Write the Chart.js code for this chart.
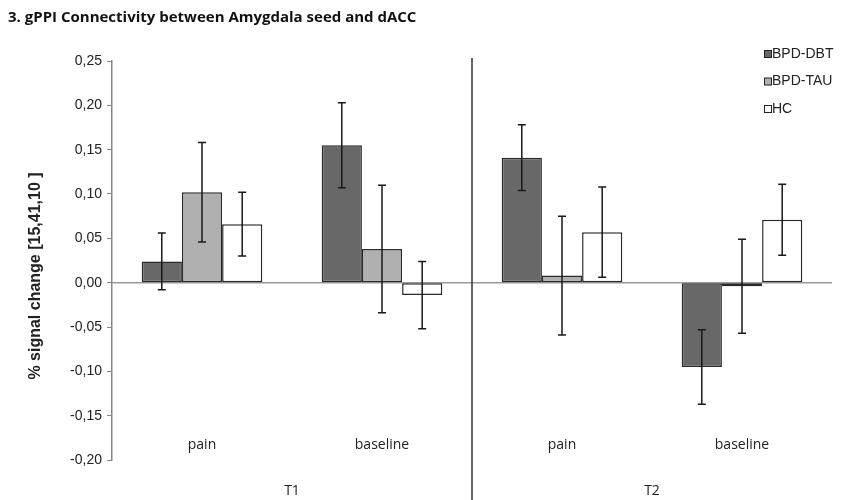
<!DOCTYPE html>
<html>
<head>
<meta charset="utf-8">
<script src="https://cdn.jsdelivr.net/npm/chart.js@4.4.1/dist/chart.umd.min.js"></script>
<style>
  html, body { margin: 0; padding: 0; background: #fff; }
  #title { position: absolute; left: 8px; top: 6px; font: bold 15px "Open Sans", sans-serif; color: #111; }
</style>
</head>
<body>
<div id="title">3. gPPI Connectivity between Amygdala seed and dACC</div>
<canvas id="chart" width="846" height="500"></canvas>
<script>
// categories (conditions) and their time-point groups
const categories = ['pain', 'baseline', 'pain', 'baseline'];
const groups = ['T1', 'T2'];

// mean % signal change per condition
const bpdDbt = [0.024, 0.155, 0.141, -0.095];
const bpdTau = [0.102, 0.038, 0.008, -0.004];
const hc = [0.066, -0.014, 0.057, 0.071];

// error bar half-lengths
const bpdDbtErr = [0.032, 0.048, 0.037, 0.042];
const bpdTauErr = [0.056, 0.072, 0.067, 0.053];
const hcErr = [0.036, 0.038, 0.051, 0.040];

const seriesNames = ['BPD-DBT', 'BPD-TAU', 'HC'];
const seriesColors = ['#686868', '#b0b0b0', '#ffffff'];
const errors = [bpdDbtErr, bpdTauErr, hcErr];

// zero line, divider, category labels, error bars, legend, axis title
const extras = {
    id: 'extras',
    beforeDatasetsDraw(chart) {
        const ctx = chart.ctx, area = chart.chartArea, y = chart.scales.y;
        ctx.save();
        ctx.strokeStyle = '#9a9a9a';
        ctx.lineWidth = 1.5;
        ctx.beginPath();
        ctx.moveTo(area.left, y.getPixelForValue(0));
        ctx.lineTo(area.right, y.getPixelForValue(0));
        ctx.stroke();
        ctx.restore();
    },
    afterDatasetsDraw(chart) {
        const ctx = chart.ctx;
        const x = chart.scales.x, y = chart.scales.y;
        ctx.save();

        // error bars
        ctx.strokeStyle = '#1a1a1a';
        ctx.lineWidth = 1.5;
        chart.data.datasets.forEach((ds, i) => {
            const meta = chart.getDatasetMeta(i);
            meta.data.forEach((bar, j) => {
                const v = ds.data[j], e = errors[i][j];
                const top = y.getPixelForValue(v + e), bot = y.getPixelForValue(v - e);
                ctx.beginPath();
                ctx.moveTo(bar.x, top); ctx.lineTo(bar.x, bot);
                ctx.moveTo(bar.x - 4, top); ctx.lineTo(bar.x + 4, top);
                ctx.moveTo(bar.x - 4, bot); ctx.lineTo(bar.x + 4, bot);
                ctx.stroke();
            });
        });

        // divider between T1 and T2
        const mid = (x.getPixelForValue(1) + x.getPixelForValue(2)) / 2;
        ctx.strokeStyle = '#333';
        ctx.lineWidth = 1.5;
        ctx.beginPath();
        ctx.moveTo(mid, 58);
        ctx.lineTo(mid, 500);
        ctx.stroke();

        // category and group labels
        ctx.fillStyle = '#222';
        ctx.font = '14px "Open Sans", sans-serif';
        ctx.textAlign = 'center';
        ctx.textBaseline = 'middle';
        categories.forEach((c, j) => ctx.fillText(c, x.getPixelForValue(j), 445));
        groups.forEach((g, k) => {
            const gx = (x.getPixelForValue(2 * k) + x.getPixelForValue(2 * k + 1)) / 2;
            ctx.fillText(g, gx, 491);
        });

        // legend
        ctx.font = '14px "Liberation Sans", Arial, sans-serif';
        ctx.textAlign = 'left';
        seriesNames.forEach((n, i) => {
            const ly = 54 + i * 27.5;
            ctx.fillStyle = seriesColors[i];
            ctx.fillRect(764, ly - 3.5, 7, 7);
            ctx.strokeStyle = '#222';
            ctx.lineWidth = 1;
            ctx.strokeRect(764.5, ly - 3.5, 7, 7);
            ctx.fillStyle = '#222';
            ctx.fillText(n, 772, ly);
        });

        // y axis title
        ctx.translate(36, 276);
        ctx.rotate(-Math.PI / 2);
        ctx.font = 'bold 16px "Liberation Sans", Arial, sans-serif';
        ctx.textAlign = 'center';
        ctx.fillText('% signal change [15,41,10 ]', 0, 0);
        ctx.restore();
    }
};

new Chart(document.getElementById('chart'), {
    type: 'bar',
    data: {
        labels: categories,
        datasets: seriesNames.map((n, i) => ({
            label: n,
            data: [bpdDbt, bpdTau, hc][i],
            backgroundColor: seriesColors[i],
            borderColor: '#2a2a2a',
            borderWidth: 1.5,
            borderSkipped: false,
            categoryPercentage: 0.67,
            barPercentage: 1.0
        }))
    },
    options: {
        responsive: false,
        animation: false,
        layout: { padding: { left: 0, top: 61, right: 14, bottom: 40 } },
        plugins: {
            legend: { display: false },
            tooltip: { enabled: false }
        },
        scales: {
            x: { display: false },
            y: {
                min: -0.2,
                max: 0.25,
                afterFit(scale) { scale.width = 112; },
                ticks: {
                    stepSize: 0.05,
                    color: '#222',
                    padding: 5,
                    font: { family: '"Liberation Sans", Arial, sans-serif', size: 14 },
                    callback: v => v.toFixed(2).replace('.', ',')
                },
                grid: { drawOnChartArea: false, drawTicks: true, tickLength: 5, color: '#888', lineWidth: 1 },
                border: { display: true, color: '#888', width: 1.5 }
            }
        }
    },
    plugins: [extras]
});
</script>
</body>
</html>
